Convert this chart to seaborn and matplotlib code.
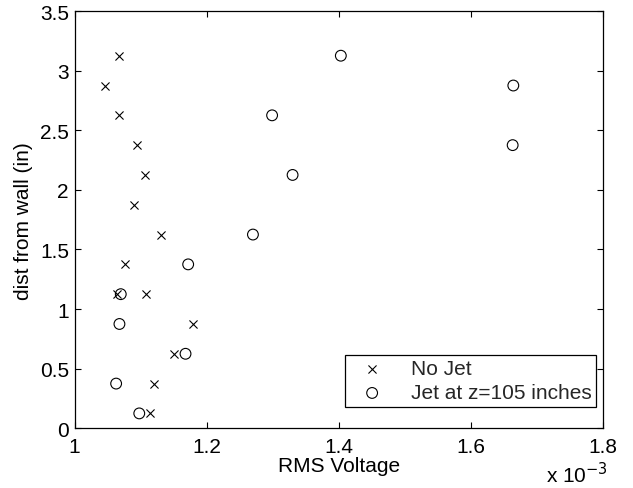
import matplotlib
matplotlib.use("Agg")
import matplotlib.pyplot as plt
import seaborn as sns
import pandas as pd

# RMS voltage values in units of 1e-3 V
no_jet_x = [1.068, 1.046, 1.067, 1.094, 1.106, 1.090, 1.131, 1.076, 1.065, 1.108,
            1.180, 1.150, 1.120, 1.114]
no_jet_y = [3.125, 2.875, 2.625, 2.375, 2.125, 1.875, 1.625, 1.375, 1.125, 1.125,
            0.875, 0.625, 0.375, 0.125]
jet_x = [1.403, 1.664, 1.299, 1.663, 1.330, 1.270, 1.172, 1.070, 1.068, 1.168,
         1.063, 1.098]
jet_y = [3.125, 2.875, 2.625, 2.375, 2.125, 1.625, 1.375, 1.125, 0.875, 0.625,
         0.375, 0.125]
series_names = ["No Jet", "Jet at z=105 inches"]
x_ticks = [1.0, 1.2, 1.4, 1.6, 1.8]
x_ticklabels = ["1", "1.2", "1.4", "1.6", "1.8"]
y_ticks = [0, 0.5, 1, 1.5, 2, 2.5, 3, 3.5]
y_ticklabels = ["0", "0.5", "1", "1.5", "2", "2.5", "3", "3.5"]

sns.set_theme(style="white")
plt.rcParams["font.family"] = ["Liberation Sans", "DejaVu Sans"]
FS = 15

df_no = pd.DataFrame({"x": no_jet_x, "y": no_jet_y})
df_jet = pd.DataFrame({"x": jet_x, "y": jet_y})

fig = plt.figure(figsize=(6.33, 4.89), dpi=100)
ax = fig.add_axes([74.5 / 633, 1 - 429.3 / 489, (603.2 - 74.5) / 633, (429.3 - 12) / 489])

sns.scatterplot(data=df_no, x="x", y="y", marker="x", color="black", s=34,
                linewidth=0.8, ax=ax, label=series_names[0])
sns.scatterplot(data=df_jet, x="x", y="y", marker="o", facecolors="none",
                edgecolor="black", s=60, linewidth=0.8, ax=ax, label=series_names[1])

ax.set_xlim(1.0, 1.8)
ax.set_ylim(0, 3.5)
ax.set_xticks(x_ticks)
ax.set_xticklabels(x_ticklabels, fontsize=FS)
ax.set_yticks(y_ticks)
ax.set_yticklabels(y_ticklabels, fontsize=FS)
ax.tick_params(axis="x", pad=6)
ax.tick_params(axis="y", pad=4)
ax.tick_params(direction="in", length=4, width=0.8, top=True, right=True,
               bottom=True, left=True, colors="black", labelcolor="black")
for sp in ax.spines.values():
    sp.set_color("black")
    sp.set_linewidth(0.9)
ax.set_xlabel("RMS Voltage", fontsize=FS, color="black", labelpad=0)
ax.set_ylabel("dist from wall (in)", fontsize=FS, color="black", labelpad=5)

fig.text(546 / 633, 1 - 487 / 489, r"x 10$^{-3}$", fontsize=FS, color="black",
         ha="left", va="bottom")

leg = ax.legend(loc="lower right", bbox_to_anchor=((596 - 74.5) / 528.7, (429.3 - 408) / 417.3),
                borderaxespad=0, frameon=True, fancybox=False, fontsize=FS,
                borderpad=0.22, labelspacing=0.25, handlelength=2.2, handletextpad=0.75,
                scatterpoints=1)
leg.get_frame().set_edgecolor("black")
leg.get_frame().set_linewidth(0.9)
leg.get_frame().set_alpha(1)

fig.savefig("out.png", dpi=100)
